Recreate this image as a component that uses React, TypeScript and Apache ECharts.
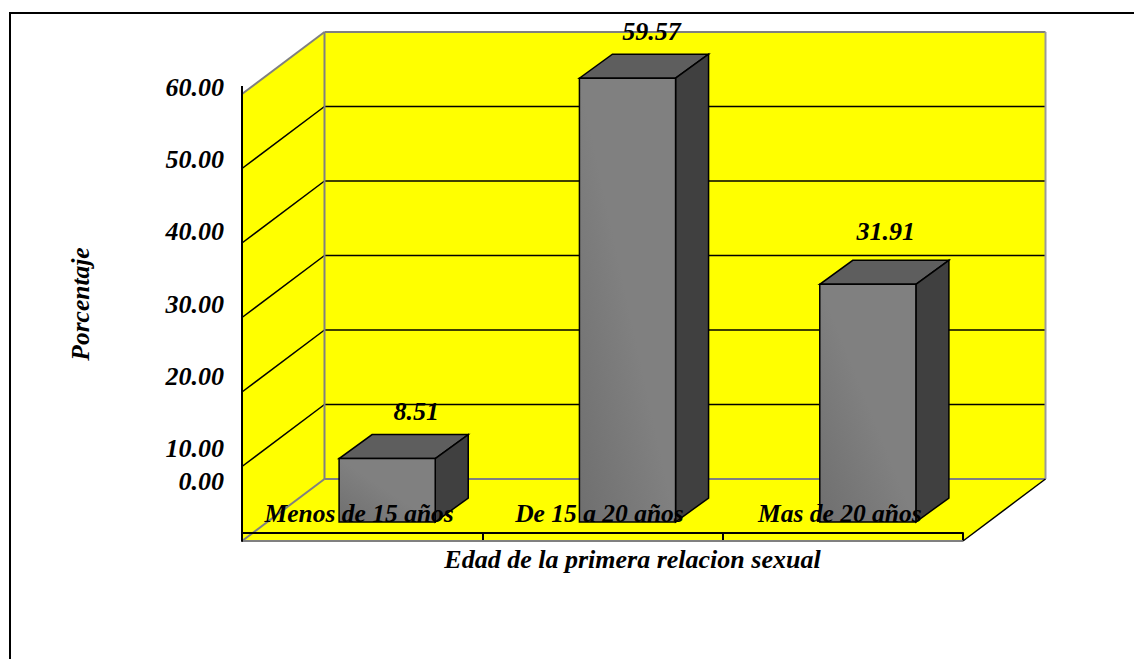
import React, { useEffect, useRef } from "react";
import * as echarts from "echarts";

const categories = ["Menos de 15 años", "De 15 a 20 años", "Mas de 20 años"];
const values = [8.51, 59.57, 31.91];
const gridValues = [10, 20, 30, 40, 50];
const yLabelPositions = [5.5, 10, 20, 30, 40, 50, 60];
const yLabelTexts = ["0.00", "10.00", "20.00", "30.00", "40.00", "50.00", "60.00"];
const xTitle = "Edad de la primera relacion sexual";
const yTitle = "Porcentaje";

const FONT = '"Liberation Serif", "Times New Roman", serif';
const DEPTH = [82.5, -62];
const BAR_FRONT = [25, -19];
const BAR_DEPTH = [33, -24];
const LABEL_SHIFT = [[54, -66], [49, -66], [43, -72]];
const textBase = { fontFamily: FONT, fontStyle: "italic", fontWeight: "bold", color: "#000", fontSize: 26 };

function renderBackdrop(params: any, api: any) {
  const cs = params.coordSys;
  const L = cs.x, R = cs.x + cs.width;
  const y0 = api.coord([0, 0])[1];
  const yT = api.coord([0, 60])[1];
  const [dx, dy] = DEPTH;
  const gray = "#808080";
  const line = (x1: number, y1: number, x2: number, y2: number, stroke: string, lineWidth = 1.5) => ({
    type: "line",
    shape: { x1, y1, x2, y2 },
    style: { stroke, lineWidth },
  });
  const children: any[] = [
    { type: "polygon", shape: { points: [[L, y0], [L + dx, y0 + dy], [L + dx, yT + dy], [L, yT]] }, style: { fill: "#ffff00" } },
    { type: "rect", shape: { x: L + dx, y: yT + dy, width: R - L, height: y0 - yT }, style: { fill: "#ffff00" } },
    { type: "polygon", shape: { points: [[L, y0], [R, y0], [R + dx, y0 + dy], [L + dx, y0 + dy]] }, style: { fill: "#ffff00" } },
  ];
  gridValues.forEach((v) => {
    const y = api.coord([0, v])[1];
    children.push(line(L, y, L + dx, y + dy, "#000"));
    children.push(line(L + dx, y + dy, R + dx, y + dy, "#000"));
  });
  children.push(line(L + dx, yT + dy, R + dx, yT + dy, gray, 2));
  children.push(line(L + dx, y0 + dy, R + dx, y0 + dy, gray, 2));
  children.push(line(L + dx, yT + dy, L + dx, y0 + dy, gray, 2));
  children.push(line(R + dx, yT + dy, R + dx, y0 + dy, "#999", 2));
  children.push(line(L, yT, L + dx, yT + dy, gray, 2));
  children.push(line(L, y0, L + dx, y0 + dy, gray, 2));
  children.push(line(L, y0, R, y0, gray, 2));
  children.push(line(R, y0, R + dx, y0 + dy, "#000", 1.5));
  children.push(line(L, yT - 8, L, yT, "#000", 2));
  return { type: "group", children };
}

function renderBar(params: any, api: any) {
  const i = api.value(0);
  const v = api.value(1);
  const top = api.coord([i, v]);
  const base = api.coord([i, 0]);
  const hw = (api.size([1, 0])[0] * 0.4) / 2;
  const [fx, fy] = BAR_FRONT;
  const [bx, by] = BAR_DEPTH;
  const x1 = top[0] - hw + fx, x2 = top[0] + hw + fx;
  const yt = top[1] + fy, yb = base[1] + fy;
  const edge = { stroke: "#000", lineWidth: 1.5, lineJoin: "miter" };
  const [sx, sy] = LABEL_SHIFT[i];
  return {
    type: "group",
    children: [
      {
        type: "polygon",
        shape: { points: [[x1, yt], [x2, yt], [x2 + bx, yt + by], [x1 + bx, yt + by]] },
        style: { fill: "#5e5e5e", ...edge },
      },
      {
        type: "polygon",
        shape: { points: [[x2, yt], [x2 + bx, yt + by], [x2 + bx, yb + by], [x2, yb]] },
        style: { fill: "#404040", ...edge },
      },
      {
        type: "rect",
        shape: { x: x1, y: yt, width: x2 - x1, height: yb - yt },
        style: {
          fill: new echarts.graphic.LinearGradient(0, 1, 1, 0, [
            { offset: 0, color: "#6f6f6f" },
            { offset: 0.5, color: "#808080" },
            { offset: 1, color: "#808080" },
          ]),
          ...edge,
        },
      },
      {
        type: "text",
        style: {
          text: v.toFixed(2),
          x: top[0] + sx,
          y: top[1] + sy,
          align: "center",
          verticalAlign: "middle",
          font: `italic bold 26px ${FONT}`,
          fill: "#000",
        },
      },
    ],
  };
}

export default function App() {
  const ref = useRef<HTMLDivElement>(null);
  useEffect(() => {
    document.body.style.margin = "0";
    const chart = echarts.init(ref.current!, null, { renderer: "svg" });
    chart.setOption({
      animation: false,
      backgroundColor: "#ffffff",
      grid: [
        { left: 242, top: 94, width: 721, height: 447 },
        { left: 242, top: 87, width: 721, height: 434 },
      ],
      xAxis: [
        {
          type: "category",
          gridIndex: 0,
          data: categories,
          offset: -8,
          z: 5,
          axisLine: { show: true, lineStyle: { color: "#000", width: 2 } },
          axisTick: { show: true, length: 7, lineStyle: { color: "#000", width: 2 } },
          axisLabel: { ...textBase, fontSize: 25.5, margin: -20, verticalAlign: "middle", padding: [0, 6, 0, 0], interval: 0, hideOverlap: false },
          name: xTitle,
          nameLocation: "middle",
          nameGap: 26,
          nameTextStyle: { ...textBase, verticalAlign: "middle", padding: [0, 0, 0, 60] },
        },
        { type: "value", gridIndex: 1, show: false, min: 0, max: 1 },
      ],
      yAxis: [
        {
          type: "value",
          gridIndex: 0,
          min: 0,
          max: 60,
          interval: 10,
          z: 5,
          axisLine: { show: true, lineStyle: { color: "#000", width: 2 } },
          axisTick: { show: false },
          axisLabel: { show: false },
          splitLine: { show: false },
        },
        {
          type: "value",
          gridIndex: 1,
          min: 0,
          max: 60,
          interval: 10,
          axisLine: { show: false },
          axisTick: { show: false },
          splitLine: { show: false },
          axisLabel: {
            ...textBase,
            margin: 18,
            customValues: yLabelPositions,
            formatter: (v: number) => yLabelTexts[yLabelPositions.indexOf(v)],
          },
          name: yTitle,
          nameLocation: "middle",
          nameRotate: 90,
          nameGap: 162,
          nameTextStyle: { ...textBase, fontSize: 25.5, verticalAlign: "middle" },
        },
      ],
      series: [
        {
          type: "custom",
          xAxisIndex: 0,
          yAxisIndex: 0,
          z: 1,
          clip: false,
          silent: true,
          data: [[0, 0]],
          renderItem: renderBackdrop,
        },
        {
          type: "custom",
          xAxisIndex: 0,
          yAxisIndex: 0,
          z: 2,
          clip: false,
          data: values.map((v, i) => [i, v]),
          renderItem: renderBar,
        },
      ],
      graphic: [
        {
          type: "rect",
          z: 0,
          silent: true,
          shape: { x: 10, y: 13, width: 1300, height: 800 },
          style: { fill: "none", stroke: "#000", lineWidth: 2 },
        },
      ],
    });
    return () => chart.dispose();
  }, []);
  return <div ref={ref} style={{ position: "fixed", left: 0, top: 0, width: 1134, height: 659 }} />;
}
